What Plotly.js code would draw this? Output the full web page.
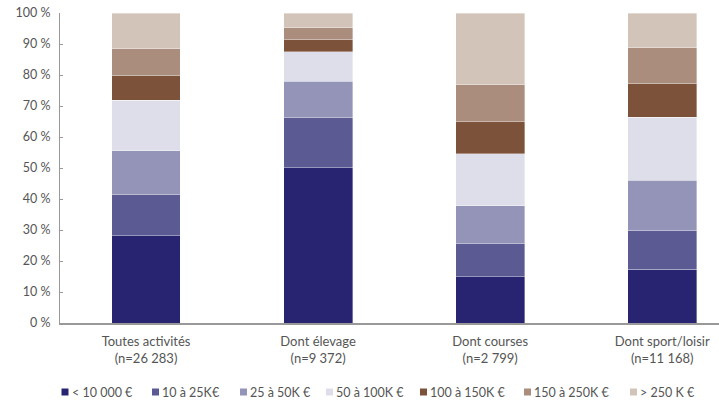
<!DOCTYPE html>
<html><head><meta charset="utf-8">
<script src="https://cdn.plot.ly/plotly-3.0.1.min.js"></script>
<style>html,body{margin:0;padding:0;background:#fff;overflow:hidden}#chart{width:719px;height:403px}</style>
</head><body><div id="chart"></div>
<script>
const categories = ["Toutes activités<br>(n=26 283)", "Dont élevage<br>(n=9 372)", "Dont courses<br>(n=2 799)", "Dont sport/loisir<br>(n=11 168)"];
const seriesNames = ["< 10 000 €", "10 à 25K€", "25 à 50K €", "50 à 100K €", "100 à 150K €", "150 à 250K €", "> 250 K €"];
const lt10k = [28.1, 50.1, 14.9, 17.4];
const from10to25k = [13.2, 16.1, 10.6, 12.6];
const from25to50k = [14.2, 11.8, 12.4, 16.0];
const from50to100k = [16.3, 9.5, 16.7, 20.3];
const from100to150k = [8.2, 3.8, 10.3, 11.1];
const from150to250k = [8.5, 3.9, 12.0, 11.4];
const gt250k = [11.5, 4.8, 23.1, 11.2];
const seriesValues = [lt10k, from10to25k, from25to50k, from50to100k, from100to150k, from150to250k, gt250k];
const colors = ["#282472", "#5c5a93", "#9493b8", "#dedeea", "#7c523a", "#aa8d7d", "#d3c4ba"];

const traces = seriesNames.map((n, i) => ({
  type: "bar", name: n, x: categories, y: seriesValues[i],
  marker: {color: colors[i], line: {color: "rgba(255,255,255,0.6)", width: 0.6}},
  width: 0.4, hoverinfo: "skip", showlegend: false
}));

// legend drawn as shapes + annotations (one per series)
const W = 719, L = 60, R = 0, T = 13, B = 80, H = 403;
const pw = W - L - R, ph = H - T - B;
const legendX = [61.5, 152, 240, 326, 420, 524, 630];
const legendY = (H - B - 392) / ph;
const shapes = seriesNames.map((n, i) => ({
  type: "rect", xref: "paper", yref: "paper",
  xsizemode: "pixel", ysizemode: "pixel",
  xanchor: (legendX[i] - L) / pw, yanchor: legendY,
  x0: 0, x1: 7, y0: -3.5, y1: 3.5,
  fillcolor: colors[i], line: {width: 0}
}));
const annotations = seriesNames.map((n, i) => ({
  xref: "paper", yref: "paper",
  x: (legendX[i] + 8 - L) / pw, y: legendY,
  xanchor: "left", yanchor: "middle", showarrow: false,
  text: n, font: {size: 12.5, color: "#555"}
}));

const layout = {
  width: W, height: H,
  margin: {l: L, r: R, t: T, b: B, autoexpand: false},
  barmode: "stack",
  paper_bgcolor: "#fff", plot_bgcolor: "#fff",
  font: {family: "Lato, 'Open Sans', sans-serif", size: 12, color: "#555"},
  showlegend: false,
  shapes: shapes,
  annotations: annotations,
  xaxis: {type: "category", range: [-0.5, 3.33], showline: true, linecolor: "#999", linewidth: 1.5,
          ticks: "", showgrid: false, zeroline: false, tickfont: {size: 13, color: "#555"},
          ticklabelstandoff: 6, automargin: false, fixedrange: true},
  yaxis: {range: [0, 100], dtick: 10, ticksuffix: " %", showline: true, linecolor: "#999", linewidth: 1,
          ticks: "inside", ticklen: 3, tickcolor: "#999", showgrid: false, zeroline: false,
          tickfont: {size: 12.5, color: "#555"}, ticklabelstandoff: 6, automargin: false, fixedrange: true}
};
Plotly.newPlot("chart", traces, layout, {displayModeBar: false, staticPlot: true});
</script></body></html>
